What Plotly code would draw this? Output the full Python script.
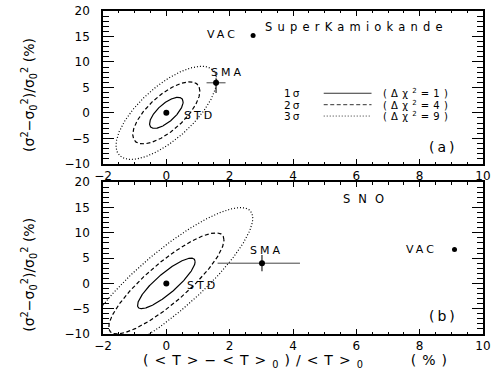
import numpy as np
import plotly.graph_objects as go

# ---------------- data ----------------
panel_names = ["SuperKamiokande", "SNO"]
panel_tags = ["(a)", "(b)"]

std_x = [0.0, 0.0]
std_y = [0.0, 0.0]

sma_x = [1.57, 3.02]
sma_y = [5.9, 4.0]
sma_ex_plus = [0.3, 1.2]
sma_ex_minus = [0.3, 1.4]
sma_ey_plus = [0.9, 1.6]
sma_ey_minus = [2.0, 1.6]

vac_x = [2.74, 9.10]
vac_y = [15.2, 6.7]

# correlated-error ellipse parameters about STD
ell_sigma_x = [0.53, 0.91]
ell_sigma_y = [3.05, 5.0]
ell_rho = [0.70, 0.86]
delta_chi2 = [1, 4, 9]
conf_labels = ["1σ", "2σ", "3σ"]

x_ticks = [-2, 0, 2, 4, 6, 8, 10]
y_ticks = [-10, -5, 0, 5, 10, 15, 20]

# ---------------- styling ----------------
FONT = "DejaVu Sans"
dash_styles = ["solid", "4px,2.5px", "1px,2px"]
line_widths = [1.2, 1.2, 1.2]


def spaced(t, s, size):
    return f'<span style="letter-spacing:{s}px;font-size:{size}px">{t}</span>'


fig = go.Figure()
axes = [("x", "y"), ("x2", "y2")]

for p, (xa, ya) in enumerate(axes):
    sx, sy, r = ell_sigma_x[p], ell_sigma_y[p], ell_rho[p]
    cov = np.array([[sx * sx, r * sx * sy], [r * sx * sy, sy * sy]])
    L = np.linalg.cholesky(cov)
    t = np.linspace(0, 2 * np.pi, 361)
    circ = np.vstack([np.cos(t), np.sin(t)])
    for k, lvl in enumerate(delta_chi2):
        pts = np.sqrt(lvl) * (L @ circ)
        fig.add_trace(go.Scatter(
            x=pts[0] + std_x[p], y=pts[1] + std_y[p], mode="lines",
            line=dict(color="black", width=line_widths[k], dash=dash_styles[k]),
            xaxis=xa, yaxis=ya, showlegend=False, hoverinfo="skip"))
    fig.add_trace(go.Scatter(x=[std_x[p]], y=[std_y[p]], mode="markers",
                             marker=dict(color="black", size=6),
                             xaxis=xa, yaxis=ya, showlegend=False))
    fig.add_trace(go.Scatter(
        x=[sma_x[p]], y=[sma_y[p]], mode="markers",
        marker=dict(color="black", size=6),
        error_x=dict(type="data", symmetric=False, array=[sma_ex_plus[p]],
                     arrayminus=[sma_ex_minus[p]], color="#444", thickness=1, width=0),
        error_y=dict(type="data", symmetric=False, array=[sma_ey_plus[p]],
                     arrayminus=[sma_ey_minus[p]], color="#222", thickness=1.2, width=0),
        xaxis=xa, yaxis=ya, showlegend=False))
    fig.add_trace(go.Scatter(x=[vac_x[p]], y=[vac_y[p]], mode="markers",
                             marker=dict(color="black", size=5),
                             xaxis=xa, yaxis=ya, showlegend=False))

tf = dict(family=FONT, size=12, color="black")
ann = []


def add_text(x, y, xref, yref, text, size, spacing, **kw):
    ann.append(dict(x=x, y=y, xref=xref, yref=yref, text=spaced(text, spacing, size),
                    showarrow=False, font=dict(family=FONT, size=size, color="black"), **kw))


add_text(0.50, -0.6, "x", "y", "STD", 11, 3, xanchor="left", yanchor="middle")
add_text(1.34, 8.0, "x", "y", "SMA", 11, 3, xanchor="left", yanchor="middle")
add_text(2.33, 15.4, "x", "y", "VAC", 11, 3, xanchor="right", yanchor="middle")
add_text(0.59, -0.5, "x2", "y2", "STD", 11, 3, xanchor="left", yanchor="middle")
add_text(2.58, 6.6, "x2", "y2", "SMA", 11, 3, xanchor="left", yanchor="middle")
add_text(8.61, 6.7, "x2", "y2", "VAC", 11, 3, xanchor="right", yanchor="middle")
add_text(6.02, 16.9, "x", "y", panel_names[0], 11.5, 5.2)
add_text(6.35, 16.7, "x2", "y2", panel_names[1], 11.5, 8)
add_text(8.75, -6.7, "x", "y", panel_tags[0], 14, 3)
add_text(8.75, -6.5, "x2", "y2", panel_tags[1], 14, 3)

leg_y = [3.85, 1.6, -0.63]
shapes = []
for k in range(3):
    add_text(3.98, leg_y[k], "x", "y", conf_labels[k], 10.5, 2)
    add_text(6.79, leg_y[k], "x", "y", f"(Δχ<sup>2</sup>={delta_chi2[k]})", 10, 4.2, xanchor="left")
    shapes.append(dict(type="line", xref="x", yref="y", x0=4.97, x1=6.48, y0=leg_y[k], y1=leg_y[k],
                       line=dict(color="#333", width=1, dash=dash_styles[k])))

ytitle = "(σ<sup>2</sup>−σ<sub>0</sub><sup>2</sup>)/σ<sub>0</sub><sup>2</sup> (%)"
add_text(-0.195, 0.45, "paper", "y domain", ytitle, 14, 0, xanchor="center", yanchor="middle", textangle=-90)
add_text(-0.195, 0.39, "paper", "y2 domain", ytitle, 14, 0, xanchor="center", yanchor="middle", textangle=-90)
xtitle = "(&lt;T&gt;−&lt;T&gt;<sub>0</sub>)/&lt;T&gt;<sub>0</sub>    (%)"
add_text(0.514, -0.085, "paper", "paper", xtitle, 14, 6, xanchor="center", yanchor="middle")

xax = dict(range=[-2, 10], tickvals=x_ticks,
           ticks="inside", ticklen=5, tickcolor="black", tickwidth=1,
           minor=dict(dtick=0.5, ticklen=2.5, ticks="inside", tickcolor="black", tickwidth=1),
           showline=True, linecolor="black", linewidth=1.5, mirror="ticks",
           showgrid=False, zeroline=False, tickfont=tf, ticklabelstandoff=0,
           ticklabeloverflow="allow")
yax = dict(range=[-10, 20], tickvals=y_ticks,
           ticks="inside", ticklen=11, tickcolor="black", tickwidth=1,
           minor=dict(dtick=1, ticklen=6, ticks="inside", tickcolor="black", tickwidth=1),
           showline=True, linecolor="black", linewidth=1.5, mirror="ticks",
           showgrid=False, zeroline=False, tickfont=tf, ticklabelstandoff=9)

fig.update_layout(
    width=495, height=375,
    margin=dict(l=103, r=7, t=4, b=41),
    paper_bgcolor="white", plot_bgcolor="white",
    xaxis=dict(**xax, domain=[0, 1], anchor="y"),
    yaxis=dict(**yax, domain=[0.527, 1], anchor="x"),
    xaxis2=dict(**xax, domain=[0, 1], anchor="y2"),
    yaxis2=dict(**yax, domain=[0, 0.4697], anchor="x2"),
    annotations=ann, shapes=shapes, showlegend=False,
)

fig.write_html("out.html", config={"displayModeBar": False},
               post_script="document.body.style.margin='0px';")
